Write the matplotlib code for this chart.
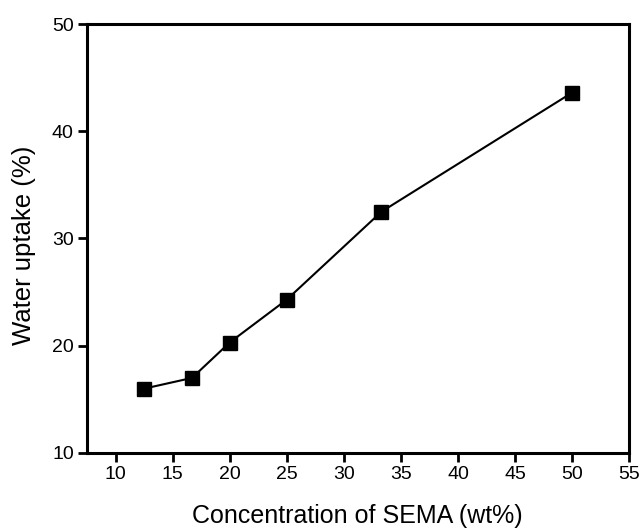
import matplotlib
matplotlib.use("Agg")
import matplotlib.pyplot as plt

plt.rcParams['font.family'] = ['Liberation Sans', 'DejaVu Sans']

sema_conc = [12.5, 16.7, 20.0, 25.0, 33.3, 50.0]
water_uptake = [16.0, 17.0, 20.3, 24.3, 32.5, 43.6]
x_ticks = [10, 15, 20, 25, 30, 35, 40, 45, 50, 55]
y_ticks = [10, 20, 30, 40, 50]

fig = plt.figure(figsize=(6.42, 5.30), dpi=100)
ax = fig.add_axes([0.1355, 0.1453, 0.8445, 0.8094])

ax.plot(sema_conc, water_uptake, color='black', linewidth=1.5,
        marker='s', markersize=10.5, markerfacecolor='black',
        markeredgecolor='black')

ax.set_xlim(7.5, 55)
ax.set_ylim(10, 50)
ax.set_xticks(x_ticks)
ax.set_yticks(y_ticks)

for s in ax.spines.values():
    s.set_linewidth(2.2)
ax.tick_params(direction='out', length=6.5, width=2, labelsize=14, pad=3)

ax.set_xlabel('Concentration of SEMA (wt%)', fontsize=18)
ax.set_ylabel('Water uptake (%)', fontsize=18.5)
ax.xaxis.set_label_coords(0.498, -0.118)
ax.yaxis.set_label_coords(-0.094, 0.485)

fig.savefig('out.png', dpi=100)
